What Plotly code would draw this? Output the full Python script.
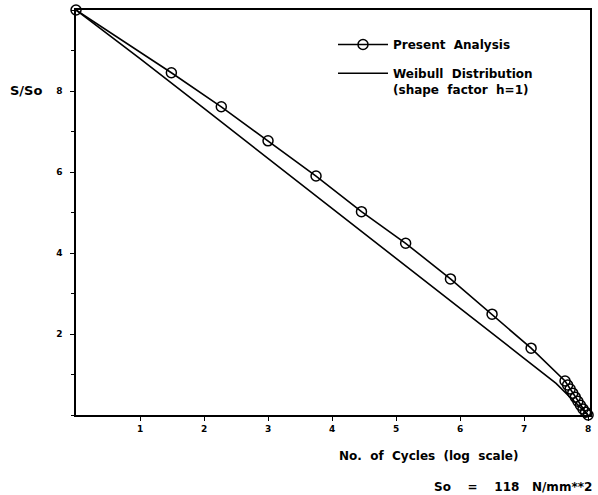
import plotly.graph_objects as go

# Present Analysis
pa_x = [0, 1.49, 2.27, 3.0, 3.75, 4.46, 5.15, 5.85, 6.50, 7.11,
        7.64, 7.68, 7.72, 7.76, 7.80, 7.84, 7.88, 7.92, 7.96, 8.0]
pa_y = [1.0, 0.845, 0.761, 0.677, 0.590, 0.502, 0.424, 0.336, 0.249, 0.165,
        0.084, 0.074, 0.064, 0.054, 0.044, 0.034, 0.024, 0.015, 0.007, 0.0]

# Weibull distribution (shape factor h=1)
wb_x = [0, 1, 2, 3, 4, 5, 6, 7, 7.5, 8]
wb_y = [1.0, 0.88, 0.757, 0.634, 0.51, 0.387, 0.263, 0.14, 0.078, 0.0]

x_ticks = [1, 2, 3, 4, 5, 6, 7, 8]
x_ticktext = ["1", "2", "3", "4", "5", "6", "7", "8"]
y_ticks = [0.2, 0.4, 0.6, 0.8]
y_ticktext = ["2", "4", "6", "8"]

FONT = "DejaVu Sans"

fig = go.Figure()
fig.add_trace(go.Scatter(
    x=pa_x, y=pa_y, mode="lines+markers", name="Present  Analysis",
    line=dict(color="black", width=1.6),
    marker=dict(symbol="circle-open", size=10, color="black", line=dict(width=1.5)),
    cliponaxis=False, legend="legend",
))
fig.add_trace(go.Scatter(
    x=wb_x, y=wb_y, mode="lines", name="Weibull  Distribution<br>(shape  factor  h=1)",
    line=dict(color="black", width=1.6),
    cliponaxis=False, legend="legend2",
))

axis_common = dict(
    showline=True, linecolor="black", linewidth=1.5, mirror=True,
    showgrid=False, zeroline=False, ticks="outside", tickcolor="black",
    ticklen=4, tickwidth=1.2, automargin=False,
    tickfont=dict(family=FONT, size=9, color="black", weight="bold"),
)

legend_font = dict(family=FONT, size=12, color="black", weight="bold")

fig.update_layout(
    width=598, height=495,
    margin=dict(l=76, r=8, t=10, b=80),
    plot_bgcolor="white", paper_bgcolor="white",
    showlegend=True,
    legend=dict(
        x=0.50, y=0.95, xanchor="left", yanchor="top", valign="top",
        bgcolor="rgba(0,0,0,0)", itemwidth=50, font=legend_font,
    ),
    legend2=dict(
        x=0.50, y=0.879, xanchor="left", yanchor="top", valign="top",
        bgcolor="rgba(0,0,0,0)", itemwidth=50, font=legend_font,
    ),
    xaxis=dict(range=[0, 8.03], tickvals=x_ticks, ticktext=x_ticktext, **axis_common),
    yaxis=dict(range=[0, 1.0], tickvals=y_ticks, ticktext=y_ticktext,
               minor=dict(dtick=0.1, ticklen=3, ticks="outside", tickcolor="black"),
               ticklabelstandoff=6, **axis_common),
    annotations=[
        dict(text="S/So", xref="paper", yref="paper", x=-0.133, y=0.80,
             xanchor="left", yanchor="middle", showarrow=False,
             font=dict(family=FONT, size=13, color="black", weight="bold")),
        dict(text="No.  of  Cycles  (log  scale)", xref="paper", yref="paper",
             x=0.685, y=-0.10, xanchor="center", yanchor="middle", showarrow=False,
             font=dict(family=FONT, size=12, color="black", weight="bold")),
        dict(text="So    =    118   N/mm**2", xref="paper", yref="paper",
             x=1.008, y=-0.178, xanchor="right", yanchor="middle", showarrow=False,
             font=dict(family=FONT, size=12, color="black", weight="bold")),
    ],
)

fig.write_html("out.html", config={"displayModeBar": False},
               post_script="document.body.style.margin='0';")
